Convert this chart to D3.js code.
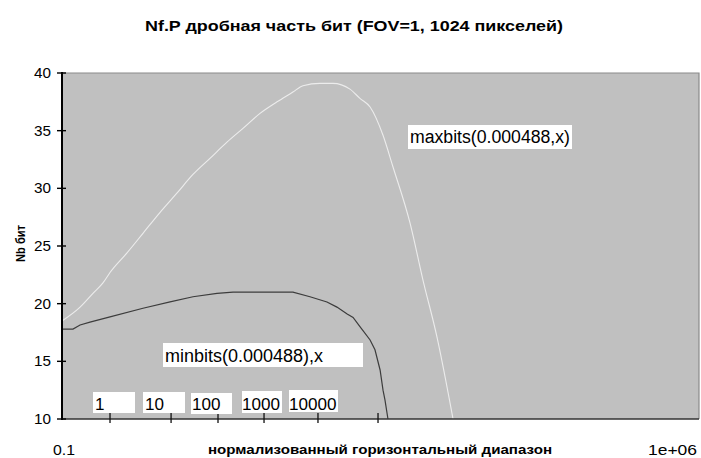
<!DOCTYPE html>
<html>
<head>
<meta charset="utf-8">
<script src="https://cdn.jsdelivr.net/npm/d3@7"></script>
<style>
  html, body { margin: 0; padding: 0; background: #fff; }
  svg { display: block; }
  text { font-family: "Liberation Sans", Arial, sans-serif; fill: #000; }
</style>
</head>
<body>
<svg id="chart" width="701" height="458"></svg>
<script>
// maxbits(0.000488, x) curve
const maxX = [0.1, 0.158, 0.219, 0.282, 0.337, 0.518, 0.776, 1.19, 1.84, 2.75, 4.23, 6.50, 9.75, 15.0, 23.1, 34.5, 44.5, 68.4, 95.0, 146, 188, 243, 337, 434, 667, 926, 1321, 1982];
const maxY = [18.5, 19.7, 20.9, 21.8, 22.7, 24.4, 26.1, 27.9, 29.6, 31.2, 32.6, 34.0, 35.2, 36.5, 37.5, 38.35, 38.9, 39.1, 39.1, 38.6, 37.8, 37.05, 34.6, 31.85, 27.0, 22.05, 17.1, 10.0];

// minbits(0.000488, x) curve
const minX = [0.1, 0.132, 0.158, 0.203, 0.337, 0.776, 1.54, 2.75, 5.05, 7.57, 15.0, 34.5, 53.1, 81.6, 105, 136, 158, 188, 243, 275, 313, 337, 354, 382];
const minY = [17.8, 17.8, 18.15, 18.4, 18.85, 19.6, 20.15, 20.6, 20.9, 21.0, 21.0, 21.0, 20.6, 20.15, 19.7, 19.1, 18.8, 18.0, 16.85, 16.0, 14.25, 12.5, 11.65, 10.0];

// axes
const xDomain = [0.1, 1e6];
const xEndLabels = ["0.1", "1e+06"];
const yTicks = [10, 15, 20, 25, 30, 35, 40];
const xMinorTicks = [0.337, 1.58, 5.18, 16.6, 65.0, 297];
const rangeLabels = ["1", "10", "100", "1000", "10000"];

const titleText = "Nf.P дробная часть бит (FOV=1, 1024 пикселей)";
const xTitle = "нормализованный горизонтальный диапазон";
const yTitle = "Nb бит";
const maxLabel = "maxbits(0.000488,x)";
const minLabel = "minbits(0.000488),x";

const svg = d3.select("#chart");
const L = 62, R = 699, T = 73, B = 419;

const x = d3.scaleLog().domain(xDomain).range([L, R]);
const y = d3.scaleLinear().domain([10, 40]).range([B, T]);

// plot background
svg.append("rect").attr("x", L).attr("y", T).attr("width", R - L).attr("height", B - T)
  .attr("fill", "#c0c0c0");

svg.append("clipPath").attr("id", "plotClip").append("rect")
  .attr("x", L).attr("y", T).attr("width", R - L).attr("height", B - T);

const plot = svg.append("g").attr("clip-path", "url(#plotClip)");

const maxData = maxX.map((v, i) => [v, maxY[i]]);
const minData = minX.map((v, i) => [v, minY[i]]);

plot.append("path").datum(maxData)
  .attr("fill", "none").attr("stroke", "#ececec").attr("stroke-width", 1.1)
  .attr("d", d3.line().x(d => x(d[0])).y(d => y(d[1])).curve(d3.curveMonotoneX));

plot.append("path").datum(minData)
  .attr("fill", "none").attr("stroke", "#3c3c3c").attr("stroke-width", 1.2)
  .attr("d", d3.line().x(d => x(d[0])).y(d => y(d[1])));

// frame: top and right border
svg.append("path").attr("d", `M${L},${T}H${R}V${B}`)
  .attr("fill", "none").attr("stroke", "#8a8a8a").attr("stroke-width", 1.2);

// bottom axis line and marks
svg.append("line").attr("x1", L).attr("x2", R).attr("y1", B).attr("y2", B)
  .attr("stroke", "#333").attr("stroke-width", 1.3);
svg.append("g").selectAll("line").data(xMinorTicks).join("line")
  .attr("x1", d => x(d)).attr("x2", d => x(d))
  .attr("y1", B - 6).attr("y2", B + 4)
  .attr("stroke", "#111").attr("stroke-width", 1.3);

// left axis line and ticks
svg.append("line").attr("x1", L).attr("x2", L).attr("y1", T - 1).attr("y2", B + 1)
  .attr("stroke", "#000").attr("stroke-width", 2);
const yAxis = svg.append("g");
yAxis.selectAll("line").data(yTicks).join("line")
  .attr("x1", L - 5).attr("x2", L + 4)
  .attr("y1", d => y(d)).attr("y2", d => y(d))
  .attr("stroke", "#000").attr("stroke-width", 1.4);
yAxis.selectAll("text").data(yTicks).join("text")
  .attr("x", L - 11).attr("y", d => y(d) + 5)
  .attr("text-anchor", "end").attr("font-size", 14)
  .attr("textLength", 17).attr("lengthAdjust", "spacingAndGlyphs")
  .text(d => d);

// x end labels
svg.append("text").attr("x", x(xDomain[0]) - 9).attr("y", 455)
  .attr("font-size", 15).attr("textLength", 22).attr("lengthAdjust", "spacingAndGlyphs")
  .text(xEndLabels[0]);
svg.append("text").attr("x", x(xDomain[1]) - 51).attr("y", 455)
  .attr("font-size", 15).attr("textLength", 49).attr("lengthAdjust", "spacingAndGlyphs")
  .text(xEndLabels[1]);

// titles
svg.append("text").attr("x", 145).attr("y", 31)
  .attr("font-size", 14).attr("font-weight", "bold")
  .attr("textLength", 418).attr("lengthAdjust", "spacingAndGlyphs")
  .text(titleText);
svg.append("text").attr("x", 208).attr("y", 454)
  .attr("font-size", 13).attr("font-weight", "bold")
  .attr("textLength", 344).attr("lengthAdjust", "spacingAndGlyphs")
  .text(xTitle);
svg.append("text").attr("transform", "translate(25,262) rotate(-90)")
  .attr("font-size", 12).attr("font-weight", "bold")
  .attr("textLength", 37).attr("lengthAdjust", "spacingAndGlyphs")
  .text(yTitle);

// boxed annotations
function boxLabel(bx, by, bw, bh, tx, ty, txt, size, len) {
  const g = svg.append("g");
  g.append("rect").attr("x", bx).attr("y", by).attr("width", bw).attr("height", bh).attr("fill", "#fff");
  const t = g.append("text").attr("x", tx).attr("y", ty).attr("font-size", size).text(txt);
  if (len) t.attr("textLength", len).attr("lengthAdjust", "spacingAndGlyphs");
}
const numBoxes = [
  [93, 392, 42, 21, 95],
  [143, 392, 42, 21, 145],
  [191, 393, 41, 21, 192],
  [242, 391, 40, 22, 242],
  [289, 390, 49, 22, 289]
];
rangeLabels.forEach((lab, i) => {
  const b = numBoxes[i];
  boxLabel(b[0], b[1], b[2], b[3], b[4], 410, lab, 17, lab.length * 9.5);
});
boxLabel(408, 125, 164, 24, 410, 143, maxLabel, 18, 160);
boxLabel(163, 343, 200, 24, 165, 362, minLabel, 18, 158);
</script>
</body>
</html>
